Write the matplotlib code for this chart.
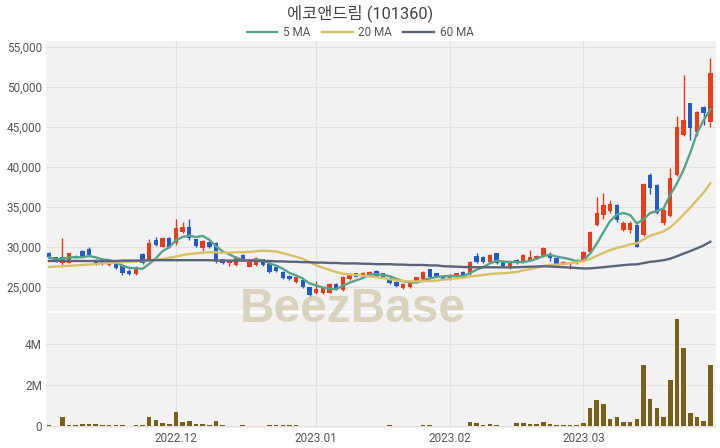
import matplotlib
matplotlib.use('Agg')
import matplotlib.pyplot as plt
import numpy as np
import pandas as pd
from matplotlib.ticker import FuncFormatter, FixedLocator

# ---------------- data ----------------
title = "에코앤드림 (101360)"
holidays = ["2022-12-30", "2023-01-23", "2023-01-24", "2023-03-01"]
dates = pd.bdate_range("2022-11-04", "2023-03-29")
dates = dates[~dates.isin(pd.to_datetime(holidays))]

opens = [29200, 28700, 28050, 28050, 28900, 29500, 29750, 28400, 28300, 27700,
         28050, 27750, 27050, 26650, 29100, 28400, 30900, 30050, 31100, 30450,
         31900, 32550, 30950, 29850, 30600, 30450, 28450, 27950, 27750, 29000,
         27550, 27750, 28450, 27900, 27450, 26850, 26400, 25650, 25900, 24950,
         24200, 24200, 24300, 25350, 24600, 25950, 26700, 26400, 26500, 27050,
         26700, 26100, 25650, 24850, 24950, 25650, 25950, 27200, 26700, 26400,
         26000, 26300, 26900, 26600, 28900, 28800, 28150, 29200, 28300, 27600,
         28350, 28150, 28400, 28600, 28900, 28850, 28600, 27850, 27850, 27950,
         28400, 29400, 32750, 34000, 34550, 35250, 32150, 32150, 32750, 31500,
         39000, 37750, 32950, 33900, 39000, 44000, 47950, 44400, 47550, 45650]
closes = [28700, 28200, 28700, 29200, 28750, 28750, 28950, 27900, 27900, 28250,
          27400, 26800, 26650, 27550, 27950, 30500, 30250, 31150, 30000, 32350,
          32550, 31100, 30150, 30800, 29950, 28400, 27950, 28250, 28800, 28400,
          28100, 28650, 27750, 26900, 27000, 26100, 26000, 26200, 24950, 24000,
          24700, 24850, 25350, 24700, 26200, 26600, 26300, 26800, 26900, 26300,
          26300, 25450, 25150, 25400, 25550, 26200, 26900, 26300, 26300, 25950,
          26500, 26700, 26300, 28150, 28150, 28150, 29000, 27950, 27600, 28000,
          27950, 29000, 28800, 28850, 29850, 28600, 27850, 28100, 28000, 28400,
          29400, 31900, 34300, 35250, 35350, 33400, 32950, 33000, 30050, 37900,
          37350, 34200, 34600, 38600, 44950, 45900, 44850, 46900, 46700, 51700]
highs = [29400, 28800, 31100, 29300, 29050, 29600, 30050, 28550, 28450, 28350,
         28100, 27850, 27250, 27650, 29200, 31000, 31200, 31250, 31200, 33500,
         33150, 33450, 31050, 30900, 30700, 30600, 28550, 28300, 28900, 29100,
         28200, 28750, 28550, 28000, 27500, 26950, 26500, 26350, 26000, 25050,
         25800, 24950, 25450, 25450, 26350, 26700, 26800, 26900, 27000, 27150,
         26800, 26200, 25750, 25450, 25650, 26300, 27000, 27300, 26800, 26500,
         26600, 26800, 27000, 28250, 29200, 28900, 29100, 29300, 28400, 28100,
         28450, 29100, 29600, 28950, 30000, 29400, 28700, 28200, 28100, 28500,
         29500, 32000, 36300, 36800, 35900, 35350, 33300, 33250, 32850, 38000,
         39250, 37850, 34700, 39900, 46400, 51500, 48050, 47000, 47650, 53600]
lows = [28500, 28100, 27550, 27950, 28650, 28700, 28900, 27800, 27750, 27600,
        27300, 26500, 26550, 26550, 27850, 28300, 30100, 29950, 29900, 30300,
        31700, 30900, 30000, 29550, 29850, 27950, 27850, 27600, 27650, 28300,
        27450, 27650, 27650, 26800, 26900, 26000, 25900, 25500, 24850, 23900,
        24100, 24100, 24200, 24600, 24500, 25850, 26200, 26300, 26400, 26200,
        26200, 25350, 25050, 24750, 24850, 25550, 25850, 26200, 26200, 25850,
        25900, 26200, 26200, 26500, 28050, 28050, 28050, 27850, 27500, 27300,
        27850, 28050, 28300, 28500, 28800, 28300, 27750, 27750, 27300, 27850,
        28300, 29300, 32600, 33500, 34300, 33100, 32000, 31800, 29950, 31400,
        36600, 34100, 32800, 33800, 38900, 43900, 43400, 43900, 45300, 45050]
volumes = [30000, 20000, 420000, 70000, 30000, 110000, 80000, 80000, 30000, 30000,
           30000, 30000, 20000, 30000, 40000, 450000, 290000, 130000, 100000, 680000,
           210000, 260000, 80000, 80000, 30000, 260000, 30000, 20000, 20000, 30000,
           20000, 20000, 20000, 30000, 40000, 40000, 40000, 30000, 20000, 20000,
           20000, 20000, 20000, 20000, 20000, 20000, 20000, 20000, 20000, 20000,
           20000, 30000, 20000, 20000, 20000, 20000, 30000, 30000, 20000, 20000,
           20000, 20000, 20000, 180000, 130000, 70000, 80000, 50000, 20000, 20000,
           160000, 160000, 80000, 80000, 180000, 100000, 50000, 30000, 30000, 70000,
           160000, 860000, 1270000, 1060000, 340000, 450000, 210000, 210000, 330000, 2980000,
           1320000, 890000, 460000, 2240000, 5200000, 3820000, 620000, 420000, 260000, 3000000]
ma20_head = [27500, 27550, 27600, 27650, 27700, 27750, 27800, 27850, 27950, 28000,
             28050, 28100, 28150, 28200, 28250, 28300, 28400, 28500, 28650]
ma60_head = [28250, 28250, 28250, 28250, 28250, 28250, 28250, 28250, 28250, 28250,
             28250, 28300, 28300, 28300, 28300, 28350, 28350, 28350, 28350, 28350,
             28350, 28350, 28350, 28350, 28350, 28300, 28300, 28300, 28300, 28300,
             28300, 28250, 28250, 28250, 28200, 28200, 28150, 28150, 28100, 28100,
             28050, 28050, 28000, 28000, 27950, 27950, 27950, 27900, 27900, 27850,
             27850, 27850, 27800, 27800, 27750, 27750, 27750, 27700, 27700]
legend_labels = ["5 MA", "20 MA", "60 MA"]

# ---------------- style ----------------
RED = "#eb3c19"
BLUE = "#235ac8"
VOLC = "#76601a"
MA_COLORS = ["#55a38c", "#d6c166", "#5a6478"]
BG = "#f2f2f2"
GRID = "#e0e0e0"
TXT = "#555555"
FONT = ["Roboto", "Noto Sans CJK KR", "DejaVu Sans"]
plt.rcParams["font.family"] = FONT

n = len(closes)
x = np.arange(n)
s = pd.Series(closes, dtype=float)
ma5 = s.rolling(5, min_periods=1).mean().values
ma20 = s.rolling(20).mean().values
ma20[:len(ma20_head)] = ma20_head
ma60 = s.rolling(60).mean().values
ma60[:len(ma60_head)] = ma60_head

month_idx = []
month_lbl = []
prev = None
for i, d in enumerate(dates):
    key = (d.year, d.month)
    if prev is not None and key != prev:
        month_idx.append(i)
        month_lbl.append(d.strftime("%Y.%m"))
    prev = key

fig = plt.figure(figsize=(7.2, 4.48), dpi=100)
W, H = 720, 448
def rect(l, t, r, b):
    return [l / W, 1 - b / H, (r - l) / W, (b - t) / H]

axv = fig.add_axes(rect(46, 312.5, 716, 428))
axp = fig.add_axes(rect(46, 41, 716, 310.5))
axp.set_zorder(2)

for ax in (axp, axv):
    ax.set_facecolor(BG)
    for sp in ax.spines.values():
        sp.set_visible(False)
    ax.tick_params(length=0, labelsize=8.5, labelcolor=TXT, pad=3)
    ax.xaxis.set_major_locator(FixedLocator(month_idx))
    ax.grid(True, color=GRID, linewidth=0.8)
    ax.set_axisbelow(True)
    ax.set_xlim(-0.45, n - 0.15)

# candles
opens_a = np.array(opens); closes_a = np.array(closes)
up = closes_a >= opens_a
colors = np.where(up, RED, BLUE)
axp.vlines(x, lows, highs, colors=colors, linewidth=1.0, zorder=3)
body_bottom = np.minimum(opens_a, closes_a)
body_h = np.abs(closes_a - opens_a)
body_h = np.maximum(body_h, 60)
axp.bar(x, body_h, bottom=body_bottom, width=0.66, color=colors, zorder=4, linewidth=0)

for vals, c, lab in zip([ma5, ma20, ma60], MA_COLORS, legend_labels):
    axp.plot(x, vals, color=c, linewidth=1.7, label=lab, zorder=5)

axp.set_ylim(22060, 55750)
axp.yaxis.set_major_locator(FixedLocator([25000, 30000, 35000, 40000, 45000, 50000, 55000]))
axp.yaxis.set_major_formatter(FuncFormatter(lambda v, p: f"{v:,.0f}"))
axp.set_xticklabels([])

axp.text(0.458, 0.003, "BeezBase", transform=axp.transAxes, ha="center", va="center",
         fontsize=34.5, fontweight="bold", family="Liberation Sans",
         color="#d9d2bd", zorder=1, clip_on=False)

# volume
axv.bar(x, volumes, width=0.68, color=VOLC, linewidth=0, zorder=3)
axv.set_ylim(-100000, 5540000)
axv.yaxis.set_major_locator(FixedLocator([0, 2000000, 4000000]))
axv.yaxis.set_major_formatter(FuncFormatter(lambda v, p: "0" if v == 0 else f"{v/1e6:.0f}M"))
axv.set_xticklabels(month_lbl)

fig.text(0.5, 1 - 13.5 / H, title, ha="center", va="center", fontsize=11.8, color="#444444")
handles, labels = axp.get_legend_handles_labels()
fig.legend(handles, labels, loc="center", bbox_to_anchor=(0.5, 1 - 32.5 / H), ncol=3,
           frameon=False, fontsize=8.5, handlelength=2.6, columnspacing=1.0,
           handletextpad=0.45, labelcolor=TXT)

fig.savefig("out.png", dpi=100)
